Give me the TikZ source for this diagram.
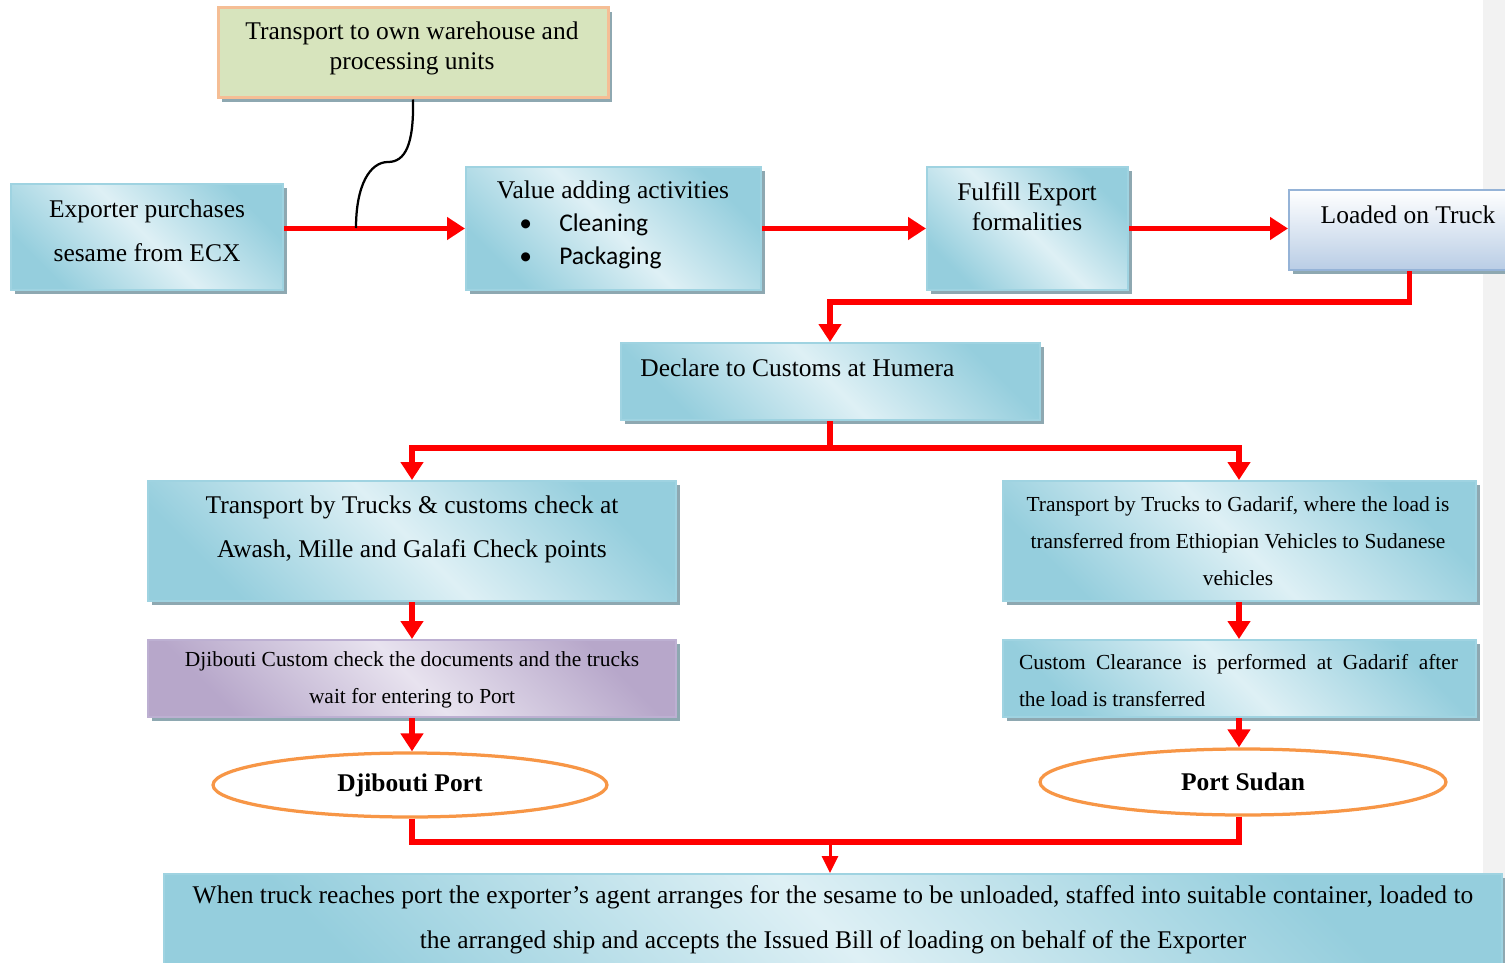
\documentclass[tikz,border=0pt]{standalone}
\usepackage{fontspec}
\setmainfont{Liberation Serif}
\newfontfamily\carlito{Carlito}
\usetikzlibrary{arrows.meta, positioning, shapes.geometric, shadows}
\definecolor{flowred}{HTML}{FF0000}
\definecolor{bluedark}{HTML}{95CEDD}
\definecolor{bluelight}{HTML}{DEF0F5}
\definecolor{blueedge}{HTML}{9FD3E1}
\definecolor{shadowgray}{HTML}{8EA8B1}
\definecolor{olivefill}{HTML}{D7E4BD}
\definecolor{peachedge}{HTML}{F5BE95}
\definecolor{lilacdark}{HTML}{B7A7CA}
\definecolor{lilaclight}{HTML}{E8E3EF}
\definecolor{lilacedge}{HTML}{BDB0D2}
\definecolor{steeldark}{HTML}{B9CDE5}
\definecolor{steeledge}{HTML}{95B3D7}
\definecolor{portedge}{HTML}{F79646}
\definecolor{stripgray}{HTML}{F2F2F2}

\begin{document}
\begin{tikzpicture}[
    x=0.02cm, y=-0.02cm,
    boxsize/.style 2 args={minimum width=#1*0.02cm, minimum height=#2*0.02cm},
    card/.style={rectangle, inner sep=0pt, line width=0.04cm,
                 general shadow={fill=shadowgray, shadow xshift=0.08cm, shadow yshift=-0.08cm}},
    bluebox/.style={card, draw=blueedge, top color=bluedark, bottom color=bluedark,
                    middle color=bluelight, shading angle=135},
    lilacbox/.style={card, draw=lilacedge, top color=lilacdark, bottom color=lilacdark,
                     middle color=lilaclight, shading angle=135},
    port/.style={ellipse, draw=portedge, line width=0.065cm, fill=white, inner sep=0pt,
                 font=\fontsize{14.5}{17}\selectfont\bfseries},
    txt/.style={inner sep=0pt, align=center, font=\fontsize{14.5}{#1}\selectfont},
    txt/.default=17,
    smalltxt/.style={inner sep=0pt, align=center, font=\fontsize{12.2}{21}\selectfont},
    flowline/.style={draw=flowred, line width=0.11cm},
    flow/.style={flowline, -{Triangle[length=0.36cm, width=0.44cm]}},
    thinflow/.style={draw=flowred, line width=0.06cm, -{Triangle[length=0.34cm, width=0.32cm]}},
]
\useasboundingbox (0,0) rectangle (1505,963);
\fill[stripgray] (1483,0) rectangle (1505,963);

% Top row
\node[card, draw=peachedge, fill=olivefill, line width=0.06cm, boxsize={390}{90}]
    (owntransport) at (413,53) {};
\node[txt] (owntransport-t) at (412,48) {Transport to own warehouse and\\processing units};

\node[bluebox, boxsize={272}{106}] (exporter) at (147,237) {};
\node[txt=25] (exporter-t) at (147,231) {Exporter purchases\\sesame from ECX};

\node[bluebox, boxsize={295}{123}] (value) at (613.5,228.5) {};
\node[txt] (value-t) at (613,192) {Value adding activities};
\node[inner sep=0pt, align=left, anchor=west, font=\carlito\fontsize{14.5}{18.8}\selectfont]
    (value-items) at (519,241.5)
    {\makebox[0.8cm][l]{•}Cleaning\\\makebox[0.8cm][l]{•}Packaging};

\node[bluebox, boxsize={201}{123}] (fulfill) at (1027.5,228.5) {};
\node[txt] (fulfill-t) at (1027,207) {Fulfill Export\\formalities};

\node[card, draw=steeledge, top color=white, bottom color=steeldark, boxsize={241}{80}]
    (loaded) at (1409.5,230) {};
\node[txt] (loaded-t) at (1408,215) {Loaded on Truck};

% Customs at Humera
\node[bluebox, boxsize={419}{77}] (declare) at (830,381.5) {};
\node[txt, anchor=west] (declare-t) at (640,368) {Declare to Customs at Humera};

% Djibouti route
\node[bluebox, boxsize={528}{120}] (lefttruck) at (412,541) {};
\node[txt=25] (lefttruck-t) at (412,529)
    {Transport by Trucks \& customs check at\\Awash, Mille and Galafi Check points};
\node[lilacbox, boxsize={528}{77}] (djcustom) at (412,678.5) {};
\node[smalltxt] (djcustom-t) at (412,680)
    {Djibouti Custom check the documents and the trucks\\wait for entering to Port};
\node[port, minimum width=394*0.02cm, minimum height=64*0.02cm]
    (djport) at (410,785) {Djibouti Port};

% Sudan route
\node[bluebox, boxsize={473}{120}] (righttruck) at (1239,541) {};
\node[smalltxt] (righttruck-t) at (1238,541)
    {Transport by Trucks to Gadarif, where the load is\\transferred from Ethiopian Vehicles to Sudanese\\vehicles};
\node[bluebox, boxsize={473}{77}] (clearance) at (1239,678.5) {};
\node[smalltxt, align=justify, text width=439*0.02cm] (clearance-t) at (1238.5,680.5)
    {Custom Clearance is performed at Gadarif after\linebreak the load is transferred};
\node[port, minimum width=406*0.02cm, minimum height=66*0.02cm]
    (sudan) at (1243,782) {Port Sudan};

% Port handling
\node[bluebox, boxsize={1338}{116}] (final) at (833,932) {};
\node[txt=25.6] (final-t) at (833,920)
    {When truck reaches port the exporter’s agent arranges for the sesame to be unloaded, staffed into suitable container, loaded to\\the arranged ship and accepts the Issued Bill of loading on behalf of the Exporter};

% Connectors
\coordinate (tap) at (356,228);
\coordinate (join) at (830,842);
\draw[flow] (value.west -| exporter.east) -- (value.west);
\draw[black, line width=0.045cm] (owntransport.south)
    .. controls (414,145) and (405,162) .. (388,162)
    .. controls (370,162) and (356,185) .. (tap);
\draw[flow] (value.east) -- (fulfill.west);
\draw[flow] (fulfill.east) -- (fulfill.east -| loaded.west);
\draw[flow] (loaded.south) -- ++(0,31) -| (declare.north);
\draw[flow] (declare.south) -- ++(0,27) -| (lefttruck.north);
\draw[flow] (declare.south) -- ++(0,27) -| (righttruck.north);
\draw[flow] (lefttruck.south) -- (djcustom.north);
\draw[flow] (djcustom.south) -- (djcustom.south |- djport.north);
\draw[flow] (righttruck.south) -- (clearance.north);
\draw[flow] (clearance.south) -- (clearance.south |- sudan.north);
\draw[flowline] (djcustom.south |- djport.south) |- (join);
\draw[flowline] (clearance.south |- sudan.south) |- (join);
\draw[thinflow] (join) -- (join |- final.north);

\end{tikzpicture}
\end{document}
